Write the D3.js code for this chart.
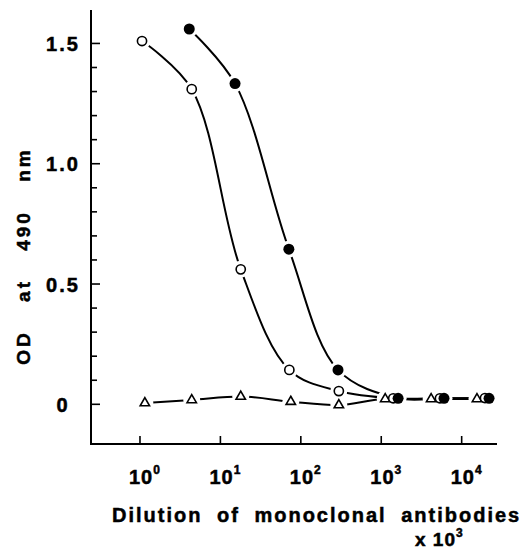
<!DOCTYPE html>
<html>
<head>
<meta charset="utf-8">
<style>
  body { margin: 0; background: #fff; }
  svg { display: block; }
  text { font-family: "Liberation Sans", Arial, sans-serif; font-weight: bold; fill: #000; stroke: #000; stroke-width: 0.5px; }
</style>
</head>
<body>
<svg width="529" height="549"></svg>
<script src="https://d3js.org/d3.v7.min.js"></script>
<script>
// dilution (x 10^3) and OD at 490 nm
var openDil   = [1.06, 4.4, 17.9, 72, 297, 1410, 5370, 19500];
var openOD    = [1.51, 1.31, 0.561, 0.143, 0.055, 0.025, 0.025, 0.026];
var filledDil = [4.1, 15.2, 71, 290, 1620, 6030, 21900];
var filledOD  = [1.56, 1.333, 0.645, 0.143, 0.025, 0.025, 0.025];
var triDil    = [1.15, 4.4, 17.9, 75, 297, 1120, 4170, 15500];
var triOD     = [0.005, 0.018, 0.032, 0.011, -0.003, 0.022, 0.022, 0.022];

var xTicks = [1, 10, 100, 1000, 10000];
var yMajor = [0, 0.5, 1.0, 1.5];
var yLabels = ["0", "0.5", "1.0", "1.5"];
var yMinor = d3.range(0, 16).map(function(i) { return i / 10; });

var svg = d3.select("svg");

// plot frame (pixels)
var pLeft = 91, pRight = 497, pTop = 10, pBottom = 444;

var x = d3.scaleLog()
    .domain([0.246, 27500])
    .range([pLeft, pRight]);

var y = d3.scaleLinear()
    .domain([-0.165, 1.639])
    .range([pBottom, pTop]);

function zip(a, b) { return a.map(function(d, i) { return [d, b[i]]; }); }

var openPts = zip(openDil, openOD);
var filledPts = zip(filledDil, filledOD);
var triPts = zip(triDil, triOD);

// axes lines
svg.append("line")
    .attr("x1", pLeft).attr("x2", pLeft)
    .attr("y1", pTop).attr("y2", pBottom)
    .attr("stroke", "#000").attr("stroke-width", 2);
svg.append("line")
    .attr("x1", pLeft - 1).attr("x2", pRight)
    .attr("y1", pBottom).attr("y2", pBottom)
    .attr("stroke", "#000").attr("stroke-width", 2);

// y ticks, pointing inward
svg.selectAll(".ymin").data(yMinor).enter().append("line")
    .attr("x1", pLeft)
    .attr("x2", function(d) { return yMajor.indexOf(d) >= 0 ? pLeft + 9 : pLeft + 6; })
    .attr("y1", function(d) { return y(d); }).attr("y2", function(d) { return y(d); })
    .attr("stroke", "#000").attr("stroke-width", 1.6);

svg.selectAll(".ylab").data(yMajor).enter().append("text")
    .attr("x", 63)
    .attr("y", function(d) { return y(d) + 7.5; })
    .attr("text-anchor", "middle")
    .attr("font-size", 20)
    .attr("letter-spacing", 2)
    .text(function(d, i) { return yLabels[i]; });

// x ticks, pointing inward
svg.selectAll(".xt").data(xTicks).enter().append("line")
    .attr("x1", function(d) { return x(d); }).attr("x2", function(d) { return x(d); })
    .attr("y1", pBottom).attr("y2", pBottom - 8)
    .attr("stroke", "#000").attr("stroke-width", 1.6);

var xl = svg.selectAll(".xlab").data(xTicks).enter().append("text")
    .attr("x", function(d) { return x(d) + 5; })
    .attr("y", 484)
    .attr("text-anchor", "middle")
    .attr("font-size", 20)
    .attr("letter-spacing", 1);
xl.append("tspan").text("10");
xl.append("tspan")
    .attr("font-size", 12)
    .attr("dy", -10)
    .text(function(d) { return Math.round(Math.log10(d)); });

// axis titles
svg.append("text")
    .attr("x", 112).attr("y", 522)
    .attr("font-size", 20)
    .attr("letter-spacing", 2)
    .attr("word-spacing", 7)
    .text("Dilution of monoclonal antibodies");

var xs = svg.append("text")
    .attr("x", 415).attr("y", 546)
    .attr("font-size", 19)
    .attr("letter-spacing", 1);
xs.append("tspan").text("x 10");
xs.append("tspan").attr("font-size", 12).attr("dy", -9).text("3");

svg.append("text")
    .attr("transform", "translate(30,256) rotate(-90)")
    .attr("text-anchor", "middle")
    .attr("font-size", 19)
    .attr("letter-spacing", 3)
    .attr("word-spacing", 20)
    .text("OD at 490 nm");

// curves
var smooth = d3.line()
    .x(function(d) { return x(d[0]); })
    .y(function(d) { return y(d[1]); })
    .curve(d3.curveCatmullRom.alpha(0.5));

var flat = d3.line()
    .x(function(d) { return x(d[0]); })
    .y(function(d) { return y(d[1]); })
    .curve(d3.curveMonotoneX);

svg.append("path").attr("d", smooth(openPts));
svg.append("path").attr("d", smooth(filledPts));
svg.append("path").attr("d", flat(triPts));
svg.selectAll("path")
    .attr("fill", "none")
    .attr("stroke", "#000")
    .attr("stroke-width", 2);

// white halos leave the small gaps between curves and markers
var allPts = openPts.concat(filledPts).concat(triPts);
svg.selectAll(".halo").data(allPts).enter().append("circle")
    .attr("cx", function(d) { return x(d[0]); })
    .attr("cy", function(d) { return y(d[1]); })
    .attr("r", 8.5)
    .attr("fill", "#fff");

// markers
svg.selectAll(".tri").data(triPts).enter().append("path")
    .attr("d", d3.symbol().type(d3.symbolTriangle).size(38))
    .attr("transform", function(d) { return "translate(" + x(d[0]) + "," + y(d[1]) + ")"; })
    .attr("fill", "#fff")
    .attr("stroke", "#000")
    .attr("stroke-width", 1.6);

svg.selectAll(".open").data(openPts).enter().append("circle")
    .attr("cx", function(d) { return x(d[0]); })
    .attr("cy", function(d) { return y(d[1]); })
    .attr("r", 4.6)
    .attr("fill", "#fff")
    .attr("stroke", "#000")
    .attr("stroke-width", 1.6);

svg.selectAll(".filled").data(filledPts).enter().append("circle")
    .attr("cx", function(d) { return x(d[0]); })
    .attr("cy", function(d) { return y(d[1]); })
    .attr("r", 5.5)
    .attr("fill", "#000");
</script>
</body>
</html>
